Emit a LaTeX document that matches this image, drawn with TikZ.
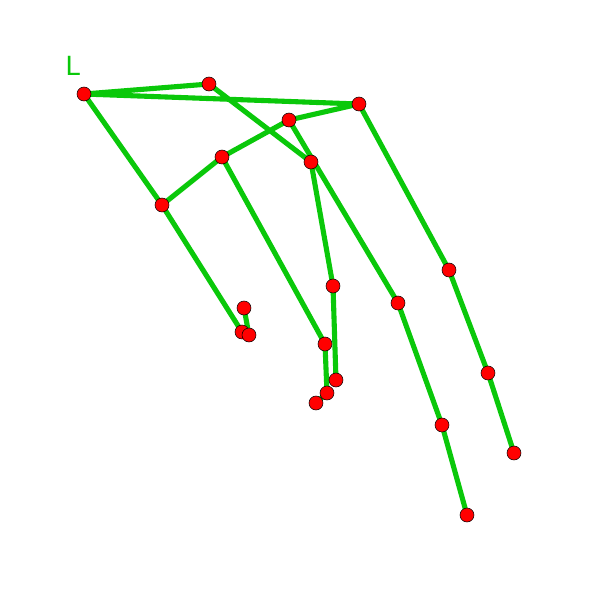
\documentclass[tikz,border=0pt]{standalone}
\usepackage{fontspec}
\setsansfont{DejaVu Sans}
\begin{document}
\begin{tikzpicture}[x=0.02cm,y=-0.02cm,
  bone/.style={draw=limeg,line width=2.9pt,line cap=round},
  joint/.style={circle,fill=red,draw=black,line width=0.3pt,inner sep=0pt,minimum size=0.28cm}]
\definecolor{limeg}{RGB}{10,200,10}
\useasboundingbox (0,0) rectangle (600,600);
\node[text=limeg,font=\sffamily\fontsize{15}{15}\selectfont,anchor=base west,inner sep=0pt] (lab) at (65,75) {L};
\coordinate (A) at (84,94);
\coordinate (B) at (209,84);
\coordinate (C) at (359,104);
\coordinate (D) at (289,120);
\coordinate (E) at (311,162);
\coordinate (F) at (222,157);
\coordinate (G) at (162,205);
\coordinate (H) at (244,308);
\coordinate (I) at (242,332);
\coordinate (J) at (249,335);
\coordinate (K) at (333,286);
\coordinate (L) at (325,344);
\coordinate (M) at (336,380);
\coordinate (N) at (327,393);
\coordinate (O) at (316,403);
\coordinate (P) at (449,270);
\coordinate (Q) at (398,303);
\coordinate (R) at (488,373);
\coordinate (S) at (442,425);
\coordinate (T) at (514,453);
\coordinate (U) at (467,515);
\draw[bone] (A)--(B) (A)--(C) (B)--(E) (A)--(G) (G)--(F) (F)--(D) (D)--(C)
 (D)--(Q) (Q)--(S) (S)--(U) (C)--(P) (P)--(R) (R)--(T)
 (E)--(K) (K)--(M) (F)--(L) (L)--(N) (N)--(O) (G)--(I) (H)--(J);
\foreach \p in {A,B,C,D,E,F,G,H,I,J,K,L,M,N,O,P,Q,R,S,T,U}
  \node[joint] (n\p) at (\p) {};
\end{tikzpicture}
\end{document}
